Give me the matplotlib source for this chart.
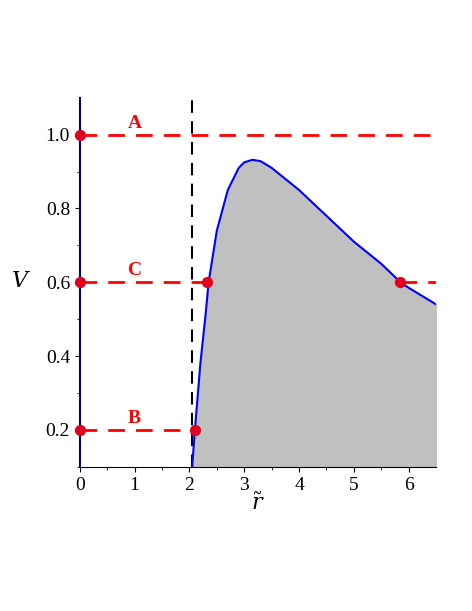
import numpy as np
import matplotlib
matplotlib.use("Agg")
import matplotlib.pyplot as plt

plt.rcParams['font.family'] = ['Liberation Serif', 'DejaVu Serif']
plt.rcParams['mathtext.fontset'] = 'dejavuserif'

# potential curve
r_vals = [2.05, 2.1, 2.2, 2.3, 2.35, 2.5, 2.7, 2.9, 3.0, 3.15, 3.3, 3.5,
          4.0, 4.5, 5.0, 5.5, 5.85, 6.0, 6.5]
v_vals = [0.1, 0.2, 0.38, 0.52, 0.6, 0.74, 0.85, 0.91, 0.925, 0.932, 0.928, 0.91,
          0.85, 0.78, 0.71, 0.65, 0.6, 0.585, 0.54]

levels = [1.0, 0.6, 0.2]
level_names = ["A", "C", "B"]
horizon = 2.05
pts_x = [0, 0, 0, 2.1, 2.32, 5.85]
pts_y = [1.0, 0.6, 0.2, 0.2, 0.6, 0.6]

fig = plt.figure(figsize=(4.72, 6.11), dpi=100)
ax = fig.add_axes([0.169, 0.236, 0.755, 0.604])

ax.fill_between(r_vals, v_vals, 0.1, color="#c0c0c0", zorder=1)
ax.plot(r_vals, v_vals, color="blue", lw=1.5, zorder=3)
ax.axvline(horizon, color="black", ls=(0, (6, 4)), lw=1.5, zorder=2)

red = "#ff0000"
dash = (0, (6, 4))
ax.plot([0, 6.5], [1.0, 1.0], color=red, ls=dash, lw=2, zorder=2)
ax.plot([0, 2.32], [0.6, 0.6], color=red, ls=dash, lw=2, zorder=2)
ax.plot([5.85, 6.5], [0.6, 0.6], color=red, ls=dash, lw=2, zorder=2)
ax.plot([0, 2.1], [0.2, 0.2], color=red, ls=dash, lw=2, zorder=2)
ax.scatter(pts_x, pts_y, s=50, color="#e00020", zorder=5, clip_on=False)

for lv, name in zip(levels, level_names):
    ax.text(1.0, lv + 0.008, name, color=red, fontsize=14, fontweight="bold",
            ha="center", va="bottom")

ax.set_xlim(0, 6.5)
ax.set_ylim(0.1, 1.1)
ax.set_xticks(range(7))
ax.set_yticks([0.2, 0.4, 0.6, 0.8, 1.0])
ax.set_yticklabels(["0.2", "0.4", "0.6", "0.8", "1.0"])
ax.set_xticks(np.arange(0, 6.5, 0.5), minor=True)
ax.set_yticks(np.arange(0.1, 1.1, 0.1), minor=True)
ax.tick_params(labelsize=14)
for s in ["top", "right"]:
    ax.spines[s].set_visible(False)
ax.spines["left"].set_color("#000080")
ax.spines["left"].set_linewidth(1.5)
ax.set_xlabel(r"$\tilde{r}$", fontsize=16, labelpad=0)
ax.set_ylabel("$V$", fontsize=16, rotation=0, labelpad=18, va="center")

fig.savefig("out.png", dpi=100)
